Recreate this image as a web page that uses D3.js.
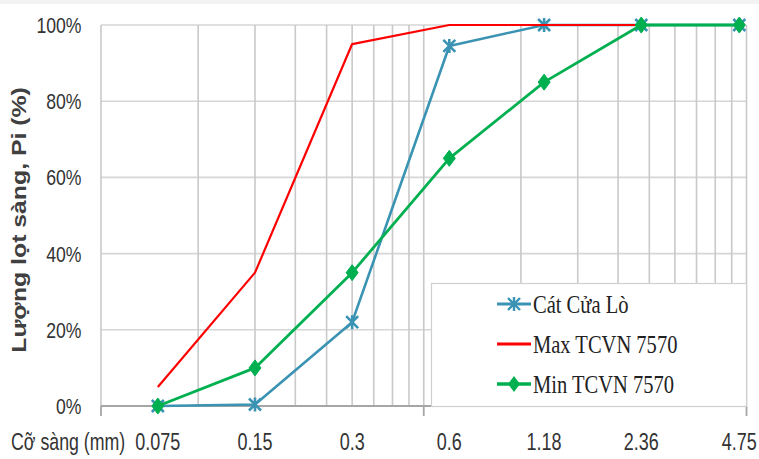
<!DOCTYPE html>
<html>
<head>
<meta charset="utf-8">
<script src="https://cdn.jsdelivr.net/npm/d3@7"></script>
<style>
  body { margin: 0; background: #fff; }
  svg { display: block; }
</style>
</head>
<body>
<div id="grafico"></div>
<script>
// dati: cỡ sàng (mm) e lượng lọt sàng (%)
const sieveSizes = [0.075, 0.15, 0.3, 0.6, 1.18, 2.36, 4.75];
const catCuaLo = [0, 0.4, 22, 94.5, 100, 100, 100];
const maxTCVN = [5, 35, 95, 100, 100, 100, 100];
const minTCVN = [0, 10, 35, 65, 85, 100, 100];
const seriesNames = ["Cát Cửa Lò", "Max TCVN 7570", "Min TCVN 7570"];
const yTicks = [0, 20, 40, 60, 80, 100];
const xTickLabels = ["0.075", "0.15", "0.3", "0.6", "1.18", "2.36", "4.75"];
const xMinorGrid = [0.1, 0.15, 0.2, 0.25, 0.3, 0.35, 0.4, 0.45, 0.5,
                    1, 1.5, 2, 2.5, 3, 3.5, 4, 4.5, 5];
const xMajorTicks = [0.05, 0.5, 5];

const width = 759;
const height = 459;
const plot = { left: 101, right: 746.5, top: 25, bottom: 406 };

const blue = "#3b93b4";
const red = "#ff0000";
const green = "#00b050";

const svg = d3.select("#grafico")
    .append("svg")
    .attr("width", width)
    .attr("height", height);

// striscia grigia in alto
svg.append("rect")
    .attr("x", 0).attr("y", 0)
    .attr("width", width).attr("height", 4)
    .attr("fill", "#f3f3f3");

const x = d3.scaleLog()
    .domain([0.05, 5])
    .range([plot.left, plot.right]);

const y = d3.scaleLinear()
    .domain([0, 100])
    .range([plot.bottom, plot.top]);

// posiziona il testo e lo comprime in orizzontale
function place(sel, fx, fy, k, rot) {
    sel.attr("transform", (d, i) => {
        let t = `translate(${fx(d, i)},${fy(d, i)})`;
        if (rot) t += ` rotate(${rot})`;
        return t + ` scale(${k},1)`;
    });
}

// griglia orizzontale
svg.append("g")
    .selectAll("line")
    .data(yTicks.filter(d => d > 0))
    .join("line")
    .attr("x1", plot.left)
    .attr("x2", plot.right)
    .attr("y1", d => y(d))
    .attr("y2", d => y(d))
    .attr("stroke", "#d6d6d6")
    .attr("stroke-width", 1.6);

// griglia verticale
svg.append("g")
    .selectAll("line")
    .data(xMinorGrid)
    .join("line")
    .attr("x1", d => x(d))
    .attr("x2", d => x(d))
    .attr("y1", plot.top)
    .attr("y2", plot.bottom)
    .attr("stroke", "#c9c9c9")
    .attr("stroke-width", 1.6);

// asse y
svg.append("line")
    .attr("x1", plot.left).attr("x2", plot.left)
    .attr("y1", plot.top).attr("y2", plot.bottom)
    .attr("stroke", "#c9c9c9")
    .attr("stroke-width", 1.6);

// asse x
svg.append("line")
    .attr("x1", plot.left).attr("x2", plot.right)
    .attr("y1", plot.bottom).attr("y2", plot.bottom)
    .attr("stroke", "#a6a6a6")
    .attr("stroke-width", 1.8);

svg.append("g")
    .selectAll("line")
    .data(xMajorTicks)
    .join("line")
    .attr("x1", d => x(d))
    .attr("x2", d => x(d))
    .attr("y1", plot.bottom)
    .attr("y2", plot.bottom + 10)
    .attr("stroke", "#a6a6a6")
    .attr("stroke-width", 1.8);

// etichette asse y
svg.append("g")
    .selectAll("text")
    .data(yTicks)
    .join("text")
    .attr("dy", "0.36em")
    .attr("text-anchor", "end")
    .style("font-family", "'Liberation Sans', Arial, sans-serif")
    .style("font-size", "22px")
    .style("fill", "#333")
    .text(d => d + "%")
    .call(place, () => 81.5, d => y(d), 0.8);

// etichette asse x
svg.append("g")
    .selectAll("text")
    .data(sieveSizes)
    .join("text")
    .attr("text-anchor", "middle")
    .style("font-family", "'Liberation Sans', Arial, sans-serif")
    .style("font-size", "24px")
    .style("fill", "#333")
    .text((d, i) => xTickLabels[i])
    .call(place, d => x(d), () => 450, 0.75);

svg.append("text")
    .style("font-family", "'Liberation Sans', Arial, sans-serif")
    .style("font-size", "24px")
    .style("fill", "#333")
    .text("Cỡ sàng (mm)")
    .call(place, () => 11, () => 450, 0.74);

// titolo asse y
svg.append("text")
    .attr("text-anchor", "middle")
    .style("font-family", "'Liberation Sans', Arial, sans-serif")
    .style("font-size", "20px")
    .style("font-weight", "bold")
    .style("fill", "#404040")
    .text("Lượng lọt sàng, Pi (%)")
    .call(place, () => 26, () => 220, 1.24, -90);

// serie
const series = [
    { name: seriesNames[0], values: catCuaLo, color: blue, width: 2.6, marker: "star" },
    { name: seriesNames[1], values: maxTCVN, color: red, width: 2.2, marker: null },
    { name: seriesNames[2], values: minTCVN, color: green, width: 2.8, marker: "diamond" }
];

const line = d3.line()
    .x((d, i) => x(sieveSizes[i]))
    .y(d => y(d));

const starPath = "M-6,-6L6,6M-6,6L6,-6M0,-7L0,7";
const diamondPath = "M0,-8L6,0L0,8L-6,0Z";

series.forEach(s => {
    const g = svg.append("g");
    g.append("path")
        .attr("d", line(s.values))
        .attr("fill", "none")
        .attr("stroke", s.color)
        .attr("stroke-width", s.width)
        .attr("stroke-linejoin", "round");

    if (s.marker === "star") {
        g.selectAll("path.mk")
            .data(s.values)
            .join("path")
            .attr("class", "mk")
            .attr("transform", (d, i) => `translate(${x(sieveSizes[i])},${y(d)})`)
            .attr("d", starPath)
            .attr("fill", "none")
            .attr("stroke", s.color)
            .attr("stroke-width", 2.6);
    } else if (s.marker === "diamond") {
        g.selectAll("path.mk")
            .data(s.values)
            .join("path")
            .attr("class", "mk")
            .attr("transform", (d, i) => `translate(${x(sieveSizes[i])},${y(d)})`)
            .attr("d", diamondPath)
            .attr("fill", s.color)
            .attr("stroke", s.color)
            .attr("stroke-width", 1);
    }
});

// legenda
const legend = svg.append("g");
legend.append("rect")
    .attr("x", 431.5)
    .attr("y", 283.5)
    .attr("width", 315)
    .attr("height", 123)
    .attr("fill", "#fff")
    .attr("stroke", "#d0d0d0")
    .attr("stroke-width", 1.2);

series.forEach((s, i) => {
    const cy = 304 + i * 40;
    const row = legend.append("g");
    row.append("line")
        .attr("x1", 497).attr("x2", 531)
        .attr("y1", cy).attr("y2", cy)
        .attr("stroke", s.color)
        .attr("stroke-width", s.width + 0.6);
    if (s.marker === "star") {
        row.append("path")
            .attr("transform", `translate(514,${cy})`)
            .attr("d", starPath)
            .attr("fill", "none")
            .attr("stroke", s.color)
            .attr("stroke-width", 2.4);
    } else if (s.marker === "diamond") {
        row.append("path")
            .attr("transform", `translate(514,${cy})`)
            .attr("d", diamondPath)
            .attr("fill", s.color);
    }
    row.append("text")
        .style("font-family", "'Liberation Serif', 'Times New Roman', serif")
        .style("font-size", "26px")
        .style("fill", "#222")
        .text(s.name)
        .call(place, () => 533, () => cy + 9, 0.79);
});
</script>
</body>
</html>
